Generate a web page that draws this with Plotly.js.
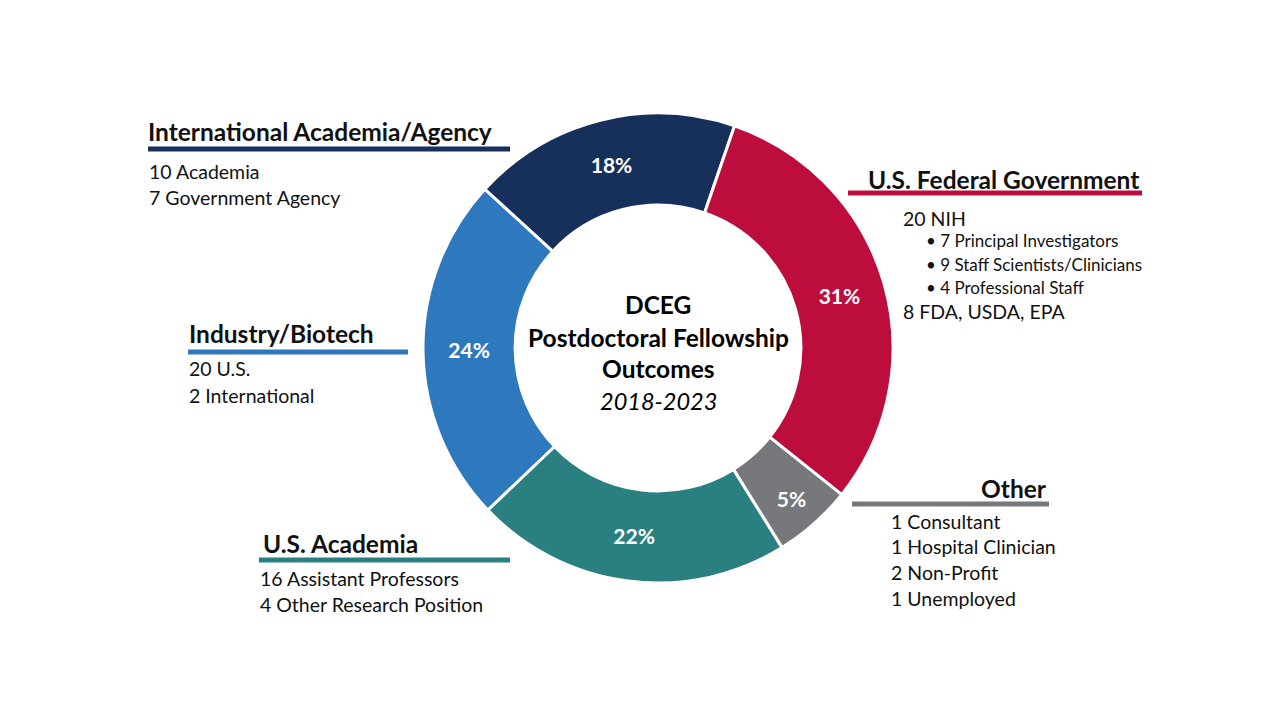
<!DOCTYPE html>
<html>
<head>
<meta charset="utf-8">
<script src="https://cdn.plot.ly/plotly-3.0.1.min.js"></script>
<style>
html,body{margin:0;padding:0;background:#fff;}
#chart{width:1280px;height:720px;}
</style>
</head>
<body>
<div id="chart"></div>
<script>
// ---- data ----
const categories = ['International Academia/Agency', 'U.S. Federal Government', 'Other', 'U.S. Academia', 'Industry/Biotech'];
const counts = [17, 28, 5, 20, 22];
const percentLabels = ['18%', '31%', '5%', '22%', '24%'];
const sliceColors = ['#16305B', '#BD0D3D', '#76787B', '#2A8080', '#2E79BE'];
const intlDetails = ['10 Academia', '7 Government Agency'];
const fedDetails = ['20 NIH', '• 7 Principal Investigators', '• 9 Staff Scientists/Clinicians', '• 4 Professional Staff', '8 FDA, USDA, EPA'];
const otherDetails = ['1 Consultant', '1 Hospital Clinician', '2 Non-Profit', '1 Unemployed'];
const usAcadDetails = ['16 Assistant Professors', '4 Other Research Position'];
const industryDetails = ['20 U.S.', '2 International'];
const centerTitle = ['DCEG', 'Postdoctoral Fellowship', 'Outcomes'];
const centerYears = '2018-2023';

// ---- layout helpers ----
const W = 1280, H = 720;
const FONT = 'Lato, "Open Sans", sans-serif';
const px = x => x / W;
const py = y => 1 - y / H;
const cx = 658, cy = 348, R = 235;
const HEAD = 24.5, BODY = 19.5, SUB = 17;

const annotations = [];
const shapes = [];
function txt(text, x, y, opts) {
  opts = opts || {};
  annotations.push({
    text: text, xref: 'paper', yref: 'paper', x: px(x), y: py(y),
    xanchor: opts.anchor || 'left', yanchor: 'middle', showarrow: false,
    font: {family: FONT, size: opts.size || BODY, color: opts.color || '#111'}
  });
}
function underline(x0, x1, y, color) {
  shapes.push({type: 'line', xref: 'paper', yref: 'paper', x0: px(x0), x1: px(x1), y0: py(y), y1: py(y),
    line: {color: color, width: 5}});
}

// International Academia/Agency
txt('<b>' + categories[0] + '</b>', 146, 131, {size: HEAD});
underline(148, 510, 149, sliceColors[0]);
intlDetails.forEach((t, i) => txt(t, 147, 171 + i * 26));

// U.S. Federal Government
txt('<b>' + categories[1] + '</b>', 1141, 179, {size: HEAD, anchor: 'right'});
underline(848, 1142, 193, sliceColors[1]);
const fedY = [218, 241, 264, 287, 311];
fedDetails.forEach((t, i) => {
  const bullet = t.startsWith('•');
  txt(t, bullet ? 924 : 901, fedY[i], {size: bullet ? SUB : BODY});
});

// Other
txt('<b>' + categories[2] + '</b>', 1049, 488, {size: HEAD, anchor: 'right'});
underline(852, 1049, 504, sliceColors[2]);
otherDetails.forEach((t, i) => txt(t, 889, 521 + i * 25.7));

// U.S. Academia
txt('<b>' + categories[3] + '</b>', 261, 543, {size: HEAD});
underline(259, 510, 560, sliceColors[3]);
usAcadDetails.forEach((t, i) => txt(t, 258, 578 + i * 26));

// Industry/Biotech
txt('<b>' + categories[4] + '</b>', 187, 333, {size: HEAD});
underline(188, 408, 352, sliceColors[4]);
industryDetails.forEach((t, i) => txt(t, 187, 369 + i * 26));

// Center text
const centerY = [304, 337, 369];
centerTitle.forEach((t, i) => txt('<b>' + t + '</b>', cx, centerY[i], {size: HEAD, anchor: 'center', color: '#000'}));
txt('<i>' + centerYears + '</i>', cx, 401, {size: 23.5, anchor: 'center', color: '#000'});

const trace = {
  type: 'pie',
  labels: categories,
  values: counts,
  text: percentLabels,
  sort: false,
  direction: 'clockwise',
  rotation: -47.5,
  hole: 0.608,
  domain: {x: [px(cx - R), px(cx + R)], y: [py(cy + R), py(cy - R)]},
  marker: {colors: sliceColors, line: {color: '#ffffff', width: 3}},
  texttemplate: '%{text}',
  textposition: 'inside',
  insidetextorientation: 'horizontal',
  textfont: {family: FONT, size: 21, color: '#ffffff', weight: 'bold'},
  hoverinfo: 'none',
  showlegend: false
};

const layout = {
  width: W, height: H,
  margin: {l: 0, r: 0, t: 0, b: 0},
  paper_bgcolor: '#ffffff',
  plot_bgcolor: '#ffffff',
  showlegend: false,
  annotations: annotations,
  shapes: shapes
};

Plotly.newPlot('chart', [trace], layout, {staticPlot: true, displayModeBar: false});
</script>
</body>
</html>
